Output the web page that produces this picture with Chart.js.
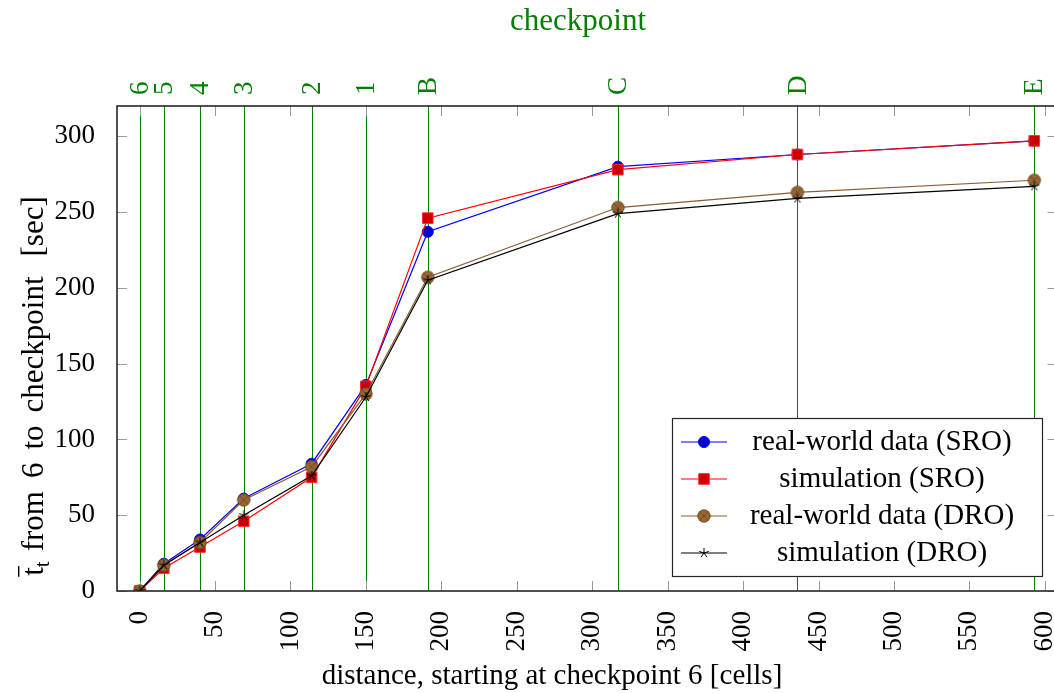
<!DOCTYPE html>
<html>
<head>
<meta charset="utf-8">
<script src="https://cdn.jsdelivr.net/npm/chart.js@4.4.1/dist/chart.umd.min.js"></script>
<style>
  html, body { margin: 0; padding: 0; overflow: hidden; background: #fff; }
  #wrap { width: 1054px; height: 693px; overflow: hidden; }
  canvas { display: block; }
</style>
</head>
<body>
<div id="wrap"><canvas id="chart" width="1066" height="693"></canvas></div>
<script>
// checkpoints along the track, position in cells
const checkpointNames = ['6', '5', '4', '3', '2', '1', 'B', 'C', 'D', 'E'];
const distance = [0, 16, 40, 69, 114, 150, 191, 317, 436, 593];

// mean travel time from checkpoint 6 [sec]
const realSRO = [0, 18, 34, 61, 84, 136, 237, 280, 288, 297];
const simSRO = [0, 15, 29, 46, 75, 135, 246, 278, 288, 297];
const realDRO = [0, 17, 32, 60, 82, 130, 207, 253, 263, 271];
const simDRO = [0, 17, 32, 50, 76, 128, 205, 249, 259, 267];

const seriesNames = ['real-world data (SRO)', 'simulation (SRO)', 'real-world data (DRO)', 'simulation (DRO)'];

const xTicks = [0, 50, 100, 150, 200, 250, 300, 350, 400, 450, 500, 550, 600];
const yTicks = [0, 50, 100, 150, 200, 250, 300];

const serif = 'Liberation Serif';
const green = '#008000';

// custom marks: circle with a cross, and a five-spoke star
function makeMark(size, draw) {
  const c = document.createElement('canvas');
  c.width = c.height = size;
  draw(c.getContext('2d'), size / 2);
  return c;
}
const otimesMark = makeMark(16, (g, c) => {
  g.beginPath();
  g.arc(c, c, 6.2, 0, 2 * Math.PI);
  g.fillStyle = '#996633';
  g.fill();
  g.strokeStyle = '#6e4a26';
  g.lineWidth = 1;
  g.stroke();
  const d = 6.2 * Math.SQRT1_2;
  g.beginPath();
  g.moveTo(c - d, c - d); g.lineTo(c + d, c + d);
  g.moveTo(c + d, c - d); g.lineTo(c - d, c + d);
  g.stroke();
});
const starMark = makeMark(14, (g, c) => {
  g.strokeStyle = '#000';
  g.lineWidth = 1;
  g.beginPath();
  for (let k = 0; k < 5; k++) {
    const a = -Math.PI / 2 + k * 2 * Math.PI / 5;
    g.moveTo(c, c);
    g.lineTo(c + 5 * Math.cos(a), c + 5 * Math.sin(a));
  }
  g.stroke();
});

function points(ys) {
  return distance.map((x, i) => ({ x: x, y: ys[i] }));
}

const datasets = [
  { label: seriesNames[0], data: points(realSRO), borderColor: '#0000ff', borderWidth: 1.2,
    pointStyle: 'circle', pointRadius: 5.5, pointBackgroundColor: '#0000cc', pointBorderColor: '#0000ff', pointBorderWidth: 1, order: 4 },
  { label: seriesNames[1], data: points(simSRO), borderColor: '#ff0000', borderWidth: 1.2,
    pointStyle: 'rect', pointRadius: 7.5, pointBackgroundColor: '#cc0000', pointBorderColor: '#ff3030', pointBorderWidth: 1, order: 3 },
  { label: seriesNames[2], data: points(realDRO), borderColor: '#8a5e33', borderWidth: 1.2,
    pointStyle: otimesMark, pointRadius: 6, pointBackgroundColor: '#996633', pointBorderColor: '#6e4a26', pointBorderWidth: 1, order: 2 },
  { label: seriesNames[3], data: points(simDRO), borderColor: '#000000', borderWidth: 1.2,
    pointStyle: starMark, pointRadius: 5, pointBackgroundColor: '#000', pointBorderColor: '#000', pointBorderWidth: 1, order: 1 }
];
datasets.forEach(d => { d.fill = false; d.tension = 0; });

function noPadding(s) {
  s.paddingLeft = 0; s.paddingRight = 0; s.paddingTop = 0; s.paddingBottom = 0;
}

// frame, inward ticks, checkpoint lines and labels, axis titles and legend, placed through the scales
const decorations = {
  id: 'decorations',
  beforeDatasetsDraw(chart) {
    const ctx = chart.ctx;
    const a = chart.chartArea;
    const sx = chart.scales.x, sy = chart.scales.y, st = chart.scales.xTop;
    ctx.save();

    // checkpoint lines
    ctx.strokeStyle = green;
    ctx.lineWidth = 1;
    ctx.beginPath();
    distance.forEach(v => {
      const px = Math.round(st.getPixelForValue(v)) + 0.5;
      ctx.moveTo(px, a.top); ctx.lineTo(px, a.bottom);
    });
    ctx.stroke();

    // inward ticks on all four sides
    ctx.strokeStyle = '#9a9a9a';
    ctx.beginPath();
    xTicks.forEach(v => {
      const px = Math.round(sx.getPixelForValue(v)) + 0.5;
      ctx.moveTo(px, a.bottom); ctx.lineTo(px, a.bottom - 10);
      ctx.moveTo(px, a.top); ctx.lineTo(px, a.top + 10);
    });
    yTicks.forEach(v => {
      const py = Math.round(sy.getPixelForValue(v)) + 0.5;
      ctx.moveTo(a.left, py); ctx.lineTo(a.left + 10, py);
      ctx.moveTo(a.right, py); ctx.lineTo(a.right - 10, py);
    });
    ctx.stroke();

    // checkpoint names above the frame
    ctx.fillStyle = green;
    ctx.font = '27px "' + serif + '"';
    ctx.textAlign = 'left';
    ctx.textBaseline = 'middle';
    distance.forEach((v, i) => {
      const px = st.getPixelForValue(v);
      ctx.save();
      ctx.translate(px + 1, a.top - 11);
      ctx.rotate(-Math.PI / 2);
      ctx.fillText(checkpointNames[i], 0, 0);
      ctx.restore();
    });
    ctx.font = '31px "' + serif + '"';
    ctx.textAlign = 'center';
    ctx.fillText('checkpoint', 578, 22);
    ctx.restore();
  },
  afterDatasetsDraw(chart) {
    const ctx = chart.ctx;
    const a = chart.chartArea;
    ctx.save();
    ctx.strokeStyle = '#262626';
    ctx.lineWidth = 1.6;
    ctx.strokeRect(a.left, a.top, a.right - a.left, a.bottom - a.top);

    // x axis title
    ctx.fillStyle = '#000';
    ctx.font = '29px "' + serif + '"';
    ctx.textAlign = 'center';
    ctx.textBaseline = 'middle';
    ctx.fillText('distance, starting at checkpoint 6 [cells]', 552, 676);

    // y axis title: t-bar with subscript t, then the words
    ctx.save();
    ctx.translate(33, 386);
    ctx.rotate(-Math.PI / 2);
    ctx.textBaseline = 'alphabetic';
    ctx.textAlign = 'left';
    const big = '31px "' + serif + '"';
    const small = '21px "' + serif + '"';
    const words = ['from', '6', 'to', 'checkpoint', '[sec]'];
    const gaps = [10, 13, 13, 13, 20];
    ctx.font = big;
    const wT = ctx.measureText('t').width;
    const wWords = words.map(w => ctx.measureText(w).width);
    ctx.font = small;
    const wSub = ctx.measureText('t').width;
    const total = wT + wSub + wWords.reduce((s, w) => s + w, 0) + gaps.reduce((s, g) => s + g, 0);
    let tx = -total / 2;
    const base = 10;
    ctx.font = big;
    ctx.fillText('t', tx, base);
    ctx.fillRect(tx - 1, base - 25, wT + 2, 1.4);
    tx += wT;
    ctx.font = small;
    ctx.fillText('t', tx, base + 6);
    tx += wSub;
    ctx.font = big;
    words.forEach((w, i) => {
      tx += gaps[i];
      ctx.fillText(w, tx, base);
      tx += wWords[i];
    });
    ctx.restore();

    // legend
    const box = { x: 672, y: 418, w: 370, h: 158 };
    ctx.fillStyle = '#fff';
    ctx.fillRect(box.x, box.y, box.w, box.h);
    ctx.strokeStyle = '#262626';
    ctx.lineWidth = 1.2;
    ctx.strokeRect(box.x + 0.5, box.y + 0.5, box.w, box.h);
    chart.data.datasets.forEach((ds, i) => {
      const y = 442 + i * 37;
      ctx.strokeStyle = ds.borderColor;
      ctx.lineWidth = 1.2;
      ctx.beginPath();
      ctx.moveTo(681, y); ctx.lineTo(727, y);
      ctx.stroke();
      ctx.fillStyle = ds.pointBackgroundColor;
      ctx.strokeStyle = ds.pointBorderColor;
      ctx.lineWidth = ds.pointBorderWidth;
      Chart.helpers.drawPoint(ctx, { pointStyle: ds.pointStyle, radius: ds.pointRadius, rotation: 0, borderWidth: ds.pointBorderWidth }, 704, y);
      ctx.fillStyle = '#000';
      ctx.font = '29px "' + serif + '"';
      ctx.textAlign = 'center';
      ctx.textBaseline = 'middle';
      ctx.fillText(ds.label, 882, y);
    });
    ctx.restore();
  }
};

new Chart(document.getElementById('chart'), {
  type: 'line',
  data: { datasets: datasets },
  options: {
    responsive: false,
    animation: false,
    layout: { padding: 0 },
    plugins: { legend: { display: false }, tooltip: { enabled: false } },
    scales: {
      x: {
        type: 'linear', position: 'bottom', min: -15, max: 608.4,
        afterBuildTicks: s => { s.ticks = xTicks.map(v => ({ value: v })); },
        afterFit: s => { s.height = 102; noPadding(s); },
        grid: { display: false }, border: { display: false },
        ticks: { autoSkip: false, minRotation: 90, maxRotation: 90, padding: 12, color: '#000',
          font: { family: serif, size: 27 } }
      },
      xTop: {
        type: 'linear', position: 'top', min: -15, max: 608.4,
        afterBuildTicks: s => { s.ticks = distance.map(v => ({ value: v })); },
        afterFit: s => { s.height = 106; noPadding(s); },
        grid: { display: false },
        border: { display: false },
        ticks: { display: false }
      },
      y: {
        type: 'linear', position: 'left', min: 0, max: 320,
        afterBuildTicks: s => { s.ticks = yTicks.map(v => ({ value: v })); },
        afterFit: s => { s.width = 117; noPadding(s); },
        grid: { display: false }, border: { display: false },
        ticks: { padding: 14, color: '#000', font: { family: serif, size: 27 } }
      }
    }
  },
  plugins: [decorations]
});
</script>
</body>
</html>
